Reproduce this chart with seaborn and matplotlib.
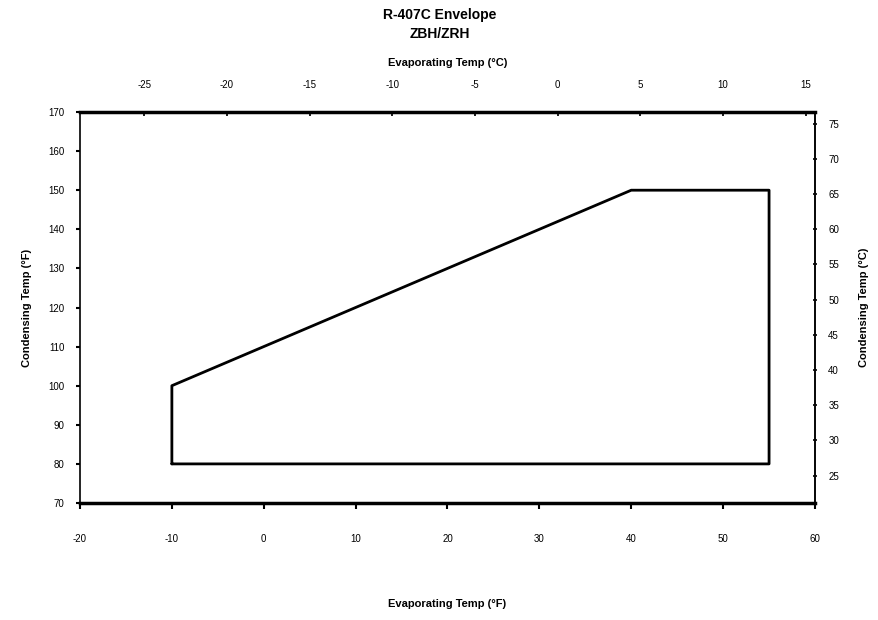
import matplotlib
matplotlib.use("Agg")
import matplotlib.pyplot as plt
import seaborn as sns
import pandas as pd

# Envelope vertices (Evaporating °F, Condensing °F)
evap_f = [-10, -10, 40, 55, 55, -10]
cond_f = [80, 100, 150, 150, 80, 80]

x_ticks_f = [-20, -10, 0, 10, 20, 30, 40, 50, 60]
y_ticks_f = [70, 80, 90, 100, 110, 120, 130, 140, 150, 160, 170]
x_ticks_c = [-25, -20, -15, -10, -5, 0, 5, 10, 15]
y_ticks_c = [25, 30, 35, 40, 45, 50, 55, 60, 65, 70, 75]

sns.set_theme(style="white")
plt.rcParams['font.family'] = ['Liberation Sans', 'DejaVu Sans']
plt.rcParams['axes.unicode_minus'] = False
plt.rcParams['text.color'] = 'black'
plt.rcParams['axes.labelcolor'] = 'black'
plt.rcParams['xtick.color'] = 'black'
plt.rcParams['ytick.color'] = 'black'

df = pd.DataFrame({"evap": evap_f, "cond": cond_f, "order": range(len(evap_f))})

fig = plt.figure(figsize=(8.79, 6.2), dpi=100)
ax = fig.add_axes([80/879, 1-503/620, 735/879, 391/620])
sns.lineplot(data=df, x="evap", y="cond", sort=False, estimator=None,
             color="black", linewidth=2, ax=ax)
ax.set_xlim(-20, 60)
ax.set_ylim(70, 170)
ax.set_xticks(x_ticks_f)
ax.set_yticks(y_ticks_f)
ax.tick_params(axis="x", labelsize=7, pad=18, length=4, direction="out", width=1.5, bottom=True)
ax.tick_params(axis="y", labelsize=7, pad=8, length=3, direction="out", width=1.5, left=True)
ax.set_xlabel("Evaporating Temp (°F)", fontsize=8, labelpad=40, fontweight="semibold")
ax.set_ylabel("Condensing Temp (°F)", fontsize=8, labelpad=12, fontweight="semibold")
for s in ["top", "bottom"]:
    ax.spines[s].set_linewidth(2.5)
for s in ["left", "right"]:
    ax.spines[s].set_linewidth(1.2)
for s in ax.spines.values():
    s.set_color("black")

f2c = lambda f: (f - 32) * 5 / 9
c2f = lambda c: c * 9 / 5 + 32

secx = ax.secondary_xaxis("top", functions=(f2c, c2f))
secx.set_xticks(x_ticks_c)
secx.tick_params(labelsize=7, pad=16, length=3, direction="in")
secx.set_xlabel("Evaporating Temp (°C)", fontsize=8, labelpad=10, fontweight="semibold")

secy = ax.secondary_yaxis("right", functions=(f2c, c2f))
secy.set_yticks(y_ticks_c)
secy.tick_params(labelsize=7, pad=8, length=3, direction="inout", width=1.2)
secy.set_ylabel("Condensing Temp (°C)", fontsize=8, labelpad=14, fontweight="semibold")

fig.text(0.5, 1-15/620, "R-407C Envelope", ha="center", va="center",
         fontsize=10, fontweight="bold")
fig.text(0.5, 1-34/620, "ZBH/ZRH", ha="center", va="center",
         fontsize=10, fontweight="bold")

fig.savefig("out.png", dpi=100)
